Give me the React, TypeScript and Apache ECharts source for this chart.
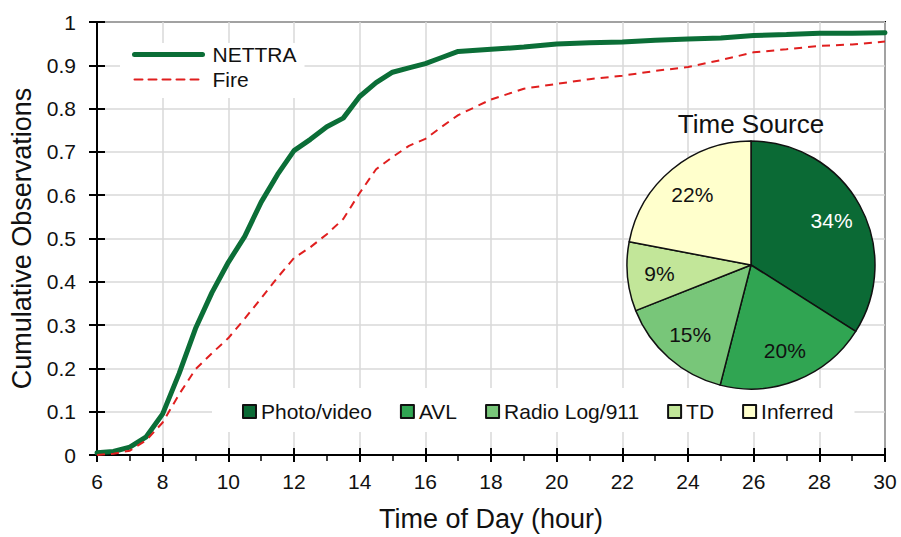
import React, { useEffect, useRef } from "react";
import * as echarts from "echarts";

const hours = [6, 6.5, 7, 7.5, 8, 8.5, 9, 9.5, 10, 10.5, 11, 11.5, 12, 12.5, 13, 13.5, 14, 14.5, 15, 15.5, 16, 16.5, 17, 18, 19, 20, 21, 22, 23, 24, 25, 26, 27, 28, 29, 30];
const nettra = [0.005, 0.008, 0.018, 0.042, 0.095, 0.188, 0.292, 0.375, 0.445, 0.505, 0.584, 0.648, 0.703, 0.729, 0.758, 0.778, 0.828, 0.86, 0.884, 0.894, 0.904, 0.918, 0.932, 0.937, 0.942, 0.949, 0.952, 0.954, 0.958, 0.961, 0.963, 0.969, 0.971, 0.974, 0.974, 0.975];
const fire = [0.0, 0.003, 0.01, 0.034, 0.075, 0.14, 0.198, 0.235, 0.27, 0.315, 0.362, 0.41, 0.455, 0.48, 0.51, 0.545, 0.605, 0.66, 0.688, 0.714, 0.73, 0.758, 0.785, 0.821, 0.846, 0.857, 0.868, 0.876, 0.887, 0.896, 0.912, 0.93, 0.937, 0.945, 0.948, 0.955];

const pieNames = ["Photo/video", "AVL", "Radio Log/911", "TD", "Inferred"];
const pieValues = [34, 20, 15, 9, 22];
const pieColors = ["#0b6a35", "#30a552", "#78c679", "#c2e699", "#ffffcc"];
const pieLabelColors = ["#ffffff", "#111111", "#111111", "#111111", "#111111"];

const FONT = "'Liberation Sans', Arial, sans-serif";

export default function App() {
  const ref = useRef<HTMLDivElement>(null);
  useEffect(() => {
    if (!ref.current) return;
    const chart = echarts.init(ref.current, undefined, { renderer: "svg" });
    const pieData = pieNames.map((n, i) => ({
      name: n,
      value: pieValues[i],
      itemStyle: { color: pieColors[i] },
      label: { color: pieLabelColors[i] },
    }));
    chart.setOption({
      animation: false,
      textStyle: { fontFamily: FONT },
      grid: {
        left: 97, right: 16, top: 22, bottom: 79,
        show: true, borderColor: "#000", borderWidth: 2,
      },
      graphic: [
        {
          type: "text", x: 751, y: 124, z: 10,
          style: { text: "Time Source", fontSize: 26, fontFamily: FONT, fill: "#111", align: "center", verticalAlign: "middle" },
        },
      ],
      legend: [
        {
          data: ["NETTRA", "Fire"],
          orient: "vertical",
          left: 120, top: 43,
          itemWidth: 68, itemHeight: 14, itemGap: 4,
          backgroundColor: "#fff",
          padding: [1, 8, 8, 12],
          itemStyle: { opacity: 0 },
          lineStyle: { width: "inherit", type: "inherit", cap: "round" },
          textStyle: { fontSize: 21, color: "#111", fontFamily: FONT, padding: [0, 0, 0, 5] },
        },
        {
          data: pieNames,
          orient: "horizontal",
          left: 212, top: 388,
          icon: "rect",
          itemWidth: 13, itemHeight: 13, itemGap: 28,
          backgroundColor: "#fff",
          padding: [13, 21, 10, 30],
          textStyle: { fontSize: 21, color: "#111", fontFamily: FONT },
        },
      ],
      xAxis: [
        {
          type: "value", min: 6, max: 30, interval: 2,
          name: "Time of Day (hour)", nameLocation: "middle", nameGap: 50,
          nameTextStyle: { fontSize: 27, color: "#111" },
          axisLine: { show: true, lineStyle: { color: "#000", width: 2 } },
          axisTick: { show: true, inside: false, length: 7, lineStyle: { color: "#000", width: 2 } },
          minorTick: { show: true, splitNumber: 2, length: 6, lineStyle: { color: "#000", width: 1.5 } },
          axisLabel: { fontSize: 21, color: "#111", margin: 16 },
          splitLine: { show: true, lineStyle: { color: "#d9d9d9", width: 1.5 } },
        },
        {
          type: "value", min: 6, max: 30, interval: 2, position: "bottom",
          axisLine: { show: false },
          axisTick: { show: true, inside: true, length: 7, lineStyle: { color: "#000", width: 2 } },
          minorTick: { show: false },
          axisLabel: { show: false },
          splitLine: { show: false },
        },
      ],
      yAxis: [
        {
          type: "value", min: 0, max: 1, interval: 0.1,
          name: "Cumulative Observations", nameLocation: "middle", nameGap: 60,
          nameTextStyle: { fontSize: 27, color: "#111" },
          axisLine: { show: true, lineStyle: { color: "#000", width: 2 } },
          axisTick: { show: true, inside: false, length: 8, lineStyle: { color: "#000", width: 2 } },
          axisLabel: {
            fontSize: 21, color: "#111", margin: 21,
            formatter: (v: number) => (v === 0 ? "0" : v === 1 ? "1" : v.toFixed(1)),
          },
          splitLine: { show: true, lineStyle: { color: "#d9d9d9", width: 1.5 } },
        },
        {
          type: "value", min: 0, max: 1, interval: 0.1, position: "left",
          axisLine: { show: false },
          axisTick: { show: true, inside: true, length: 8, lineStyle: { color: "#000", width: 2 } },
          axisLabel: { show: false },
          splitLine: { show: false },
        },
      ],
      series: [
        {
          name: "NETTRA", type: "line", symbol: "none", z: 3,
          data: hours.map((h, i) => [h, nettra[i]]),
          lineStyle: { color: "#0b6e37", width: 5, cap: "round" },
          itemStyle: { color: "#0b6e37" },
        },
        {
          name: "Fire", type: "line", symbol: "none", z: 4,
          data: hours.map((h, i) => [h, fire[i]]),
          lineStyle: { color: "#e01f1f", width: 2, type: [8, 6] },
          itemStyle: { color: "#e01f1f" },
        },
        {
          name: "Time Source", type: "pie", z: 5,
          center: [751, 265], radius: [0, 124],
          startAngle: 90, clockwise: true,
          label: { show: false },
          labelLine: { show: false },
          itemStyle: { borderColor: "#111", borderWidth: 1.5 },
          emphasis: { disabled: true },
          data: pieData,
        },
        {
          name: "Time Source Labels", type: "pie", z: 6, silent: true,
          center: [751, 265], radius: [54, 124],
          startAngle: 90, clockwise: true,
          label: {
            show: true, position: "inside", fontSize: 21, fontFamily: FONT,
            formatter: (p: any) => p.value + "%",
          },
          labelLine: { show: false },
          itemStyle: { color: "transparent", borderWidth: 0 },
          emphasis: { disabled: true },
          legendHoverLink: false,
          data: pieData.map((d) => ({ ...d, itemStyle: { color: "rgba(0,0,0,0)" } })),
        },
      ],
    });
    return () => chart.dispose();
  }, []);
  return <div ref={ref} style={{ width: 901, height: 537, position: "absolute", left: 0, top: 0 }} />;
}
